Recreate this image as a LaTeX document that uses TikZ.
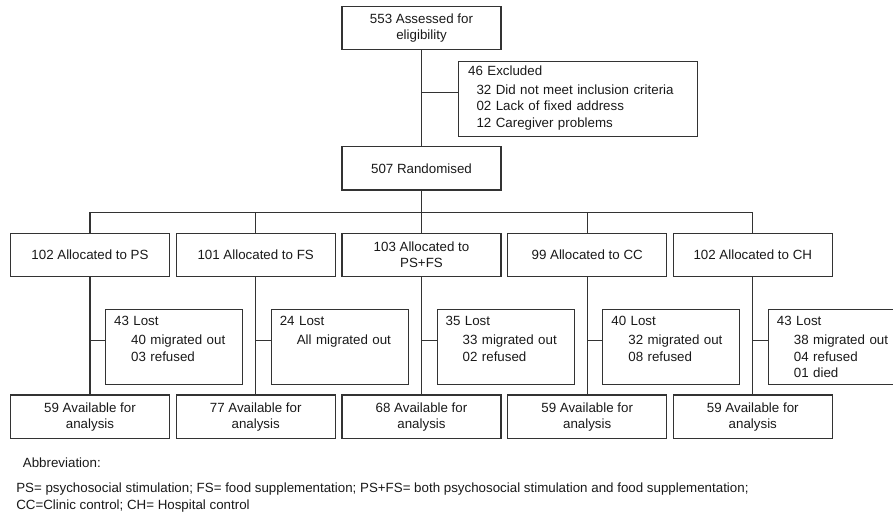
\documentclass[tikz,border=0pt]{standalone}
\usepackage{fontspec}
\setmainfont{Liberation Sans}
\usepackage{tikz}

\begin{document}
\begin{tikzpicture}[x=0.75pt, y=-0.75pt, line width=0.9pt, draw=black!80,
  every node/.style={font=\fontsize{10}{11.8}\selectfont, text=black!90},
  box/.style={draw=black!80, rectangle, minimum width=119.25pt, minimum height=32.6pt, align=center, inner sep=1pt},
  lostbox/.style={draw=black!80, rectangle, anchor=north west, text width=89.95pt, inner xsep=6.4pt, inner ysep=4.35pt,
    align=left, text height=7.5pt, text depth=40.05pt, font=\fontsize{10}{12.4}\selectfont},
  note/.style={anchor=west, inner sep=0pt}]
  \useasboundingbox (0,0) rectangle (893,514);
  \clip (0,0) rectangle (893,514);

  \node (assess) [box] at (421.5,28) {553 Assessed for\\eligibility};
  \node (excl) [lostbox, text width=164.6pt, inner xsep=7.5pt, inner ysep=3.1pt, text depth=42.8pt,
    font=\fontsize{10}{12.2}\selectfont] at (457.5,60.7)
    {46 Excluded\\[2.2pt]\hspace*{6.3pt}32 Did not meet inclusion criteria\\
     \hspace*{6.3pt}02 Lack of fixed address\\\hspace*{6.3pt}12 Caregiver problems};
  \node (rand) [box] at (421.5,168.3) {507 Randomised};

  % allocation
  \node (ps) [box] at (90,255) {102 Allocated to PS};
  \node (fs) [box] at (255.7,255) {101 Allocated to FS};
  \node (psfs) [box] at (421.5,255) {103 Allocated to\\PS+FS};
  \node (cc) [box] at (587.2,255) {99 Allocated to CC};
  \node (ch) [box] at (752.8,255) {102 Allocated to CH};

  % losses
  \node (psl) [lostbox] at (105,309) {43 Lost\\[2.2pt]\hspace*{12.75pt}40 migrated out\\\hspace*{12.75pt}03 refused};
  \node (fsl) [lostbox] at (270.7,309) {24 Lost\\[2.2pt]\hspace*{12.75pt}All migrated out};
  \node (psfsl) [lostbox] at (436.5,309) {35 Lost\\[2.2pt]\hspace*{12.75pt}33 migrated out\\\hspace*{12.75pt}02 refused};
  \node (ccl) [lostbox] at (602.2,309) {40 Lost\\[2.2pt]\hspace*{12.75pt}32 migrated out\\\hspace*{12.75pt}08 refused};
  \node (chl) [lostbox] at (767.8,309) {43 Lost\\[2.2pt]\hspace*{12.75pt}38 migrated out\\\hspace*{12.75pt}04 refused\\\hspace*{12.75pt}01 died};

  % available
  \node (psa) [box] at (90,416.7) {59 Available for\\analysis};
  \node (fsa) [box] at (255.7,416.7) {77 Available for\\analysis};
  \node (psfsa) [box] at (421.5,416.7) {68 Available for\\analysis};
  \node (cca) [box] at (587.2,416.7) {59 Available for\\analysis};
  \node (cha) [box] at (752.8,416.7) {59 Available for\\analysis};

  \coordinate (exb) at (421.5,92.7);
  \coordinate (bus) at (421.5,212.3);
  \draw (assess) -- (rand);
  \draw (exb) -- (exb -| excl.west);
  \draw (rand) -- (bus);
  \draw (ps.north) |- (bus) -| (ch.north);
  \draw (fs.north) -- (fs.north |- bus);
  \draw (psfs.north) -- (bus);
  \draw (cc.north) -- (cc.north |- bus);

  \foreach \c in {ps, fs, psfs, cc, ch} {
    \draw (\c) -- (\c a);
    \coordinate (\c b) at (\c.south |- 0,340.7);
    \draw (\c b) -- (\c b -| \c l.west);
  }

  \node (abbr) [note] at (22.3,463) {Abbreviation:};
  \node (key1) [note] at (15.7,489) {PS= psychosocial stimulation; FS= food supplementation; PS+FS= both psychosocial stimulation and food supplementation;};
  \node (key2) [note] at (15.7,506) {CC=Clinic control; CH= Hospital control};
\end{tikzpicture}
\end{document}
